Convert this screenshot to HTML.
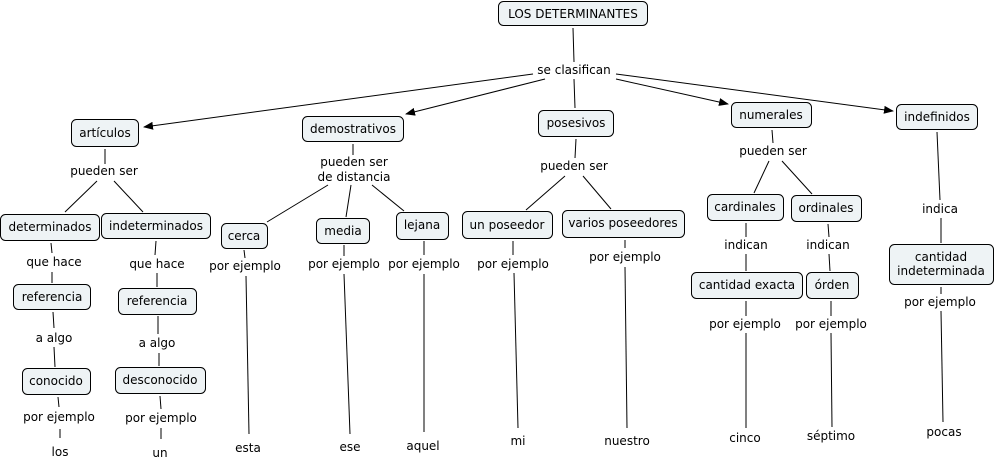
<!DOCTYPE html>
<html><head><meta charset="utf-8"><style>
html,body{margin:0;padding:0;background:#fff;}
svg{display:block;font-family:"DejaVu Sans","Liberation Sans",sans-serif;font-size:12px;}
rect{fill:#eef3f5;stroke:#000;stroke-width:1;}
line{stroke:#000;stroke-width:1;}
text{text-anchor:middle;dominant-baseline:central;fill:#000;}
</style></head><body>
<svg width="995" height="468" viewBox="0 0 995 468">
<defs><marker id="a" markerWidth="10" markerHeight="8" refX="9" refY="4" orient="auto" markerUnits="userSpaceOnUse"><path d="M0,0 L10,4 L0,8 z" fill="#000"/></marker></defs>
<g>
<line x1="573" y1="28" x2="574" y2="62"/>
<line x1="533" y1="74" x2="144" y2="127" marker-end="url(#a)"/>
<line x1="545" y1="79" x2="406" y2="114" marker-end="url(#a)"/>
<line x1="574" y1="79" x2="575" y2="108"/>
<line x1="616" y1="79" x2="728" y2="104" marker-end="url(#a)"/>
<line x1="616" y1="74" x2="893" y2="111" marker-end="url(#a)"/>
<line x1="105" y1="149" x2="105" y2="164"/>
<line x1="97" y1="181" x2="65" y2="212"/>
<line x1="114" y1="181" x2="143" y2="212"/>
<line x1="353" y1="144" x2="353" y2="155"/>
<line x1="328" y1="185" x2="267" y2="222"/>
<line x1="351" y1="185" x2="346" y2="217"/>
<line x1="372" y1="185" x2="404" y2="211"/>
<line x1="576" y1="139" x2="575" y2="158"/>
<line x1="565" y1="176" x2="526" y2="210"/>
<line x1="583" y1="176" x2="611" y2="209"/>
<line x1="772" y1="130" x2="773" y2="143"/>
<line x1="769" y1="161" x2="754" y2="193"/>
<line x1="782" y1="161" x2="812" y2="194"/>
<line x1="937" y1="132" x2="940" y2="200"/>
<line x1="941" y1="218" x2="941" y2="243"/>
<line x1="941" y1="287" x2="941" y2="294"/>
<line x1="941" y1="311" x2="943" y2="422"/>
<line x1="746" y1="223" x2="746" y2="237"/>
<line x1="746" y1="254" x2="746" y2="271"/>
<line x1="746" y1="301" x2="746" y2="316"/>
<line x1="746" y1="333" x2="746" y2="428"/>
<line x1="828" y1="224" x2="829" y2="237"/>
<line x1="829" y1="254" x2="830" y2="271"/>
<line x1="831" y1="301" x2="831" y2="316"/>
<line x1="831" y1="333" x2="832" y2="427"/>
<line x1="51" y1="243" x2="52" y2="253"/>
<line x1="52" y1="272" x2="52" y2="283"/>
<line x1="53" y1="312" x2="54" y2="328"/>
<line x1="54" y1="347" x2="55" y2="367"/>
<line x1="58" y1="397" x2="59" y2="407"/>
<line x1="60" y1="429" x2="60" y2="438"/>
<line x1="156" y1="241" x2="155" y2="255"/>
<line x1="157" y1="273" x2="157" y2="287"/>
<line x1="158" y1="316" x2="158" y2="334"/>
<line x1="159" y1="353" x2="159" y2="366"/>
<line x1="160" y1="396" x2="161" y2="409"/>
<line x1="161" y1="428" x2="161" y2="439"/>
<line x1="244" y1="250" x2="245" y2="258"/>
<line x1="246" y1="276" x2="249" y2="434"/>
<line x1="344" y1="245" x2="344" y2="256"/>
<line x1="344" y1="274" x2="350" y2="434"/>
<line x1="424" y1="241" x2="424" y2="255"/>
<line x1="424" y1="274" x2="424" y2="432"/>
<line x1="513" y1="241" x2="513" y2="255"/>
<line x1="514" y1="273" x2="518" y2="428"/>
<line x1="625" y1="240" x2="625" y2="248"/>
<line x1="625" y1="267" x2="627" y2="428"/>
</g>
<g>
<rect x="498.5" y="1.5" width="149" height="24" rx="5"/><text x="573" y="14">LOS DETERMINANTES</text>
<rect x="71.5" y="119.5" width="67" height="27" rx="5"/><text x="105" y="133">artículos</text>
<rect x="302.5" y="116.5" width="101" height="25" rx="5"/><text x="353" y="129">demostrativos</text>
<rect x="538.5" y="110.5" width="75" height="26" rx="5"/><text x="576" y="123">posesivos</text>
<rect x="731.5" y="102.5" width="80" height="25" rx="5"/><text x="771" y="115">numerales</text>
<rect x="896.5" y="104.5" width="81" height="25" rx="5"/><text x="937" y="117">indefinidos</text>
<rect x="0.5" y="214.5" width="99" height="26" rx="5"/><text x="50" y="227">determinados</text>
<rect x="101.5" y="213.5" width="109" height="25" rx="5"/><text x="156" y="226">indeterminados</text>
<rect x="221.5" y="223.5" width="46" height="25" rx="5"/><text x="244" y="236">cerca</text>
<rect x="316.5" y="218.5" width="53" height="25" rx="5"/><text x="343" y="231">media</text>
<rect x="396.5" y="212.5" width="52" height="27" rx="5"/><text x="422" y="225">lejana</text>
<rect x="462.5" y="211.5" width="90" height="27" rx="5"/><text x="507" y="225">un poseedor</text>
<rect x="562.5" y="210.5" width="122" height="27" rx="5"/><text x="623" y="223">varios poseedores</text>
<rect x="707.5" y="194.5" width="76" height="26" rx="5"/><text x="745" y="207">cardinales</text>
<rect x="791.5" y="195.5" width="70" height="26" rx="5"/><text x="826" y="208">ordinales</text>
<rect x="889.5" y="244.5" width="104" height="40" rx="5"/><text x="941" y="257">cantidad</text><text x="941" y="271">indeterminada</text>
<rect x="13.5" y="284.5" width="77" height="25" rx="5"/><text x="52" y="297">referencia</text>
<rect x="118.5" y="288.5" width="78" height="26" rx="5"/><text x="157" y="301">referencia</text>
<rect x="22.5" y="368.5" width="68" height="26" rx="5"/><text x="56" y="381">conocido</text>
<rect x="115.5" y="367.5" width="90" height="26" rx="5"/><text x="160" y="380">desconocido</text>
<rect x="691.5" y="272.5" width="111" height="26" rx="5"/><text x="747" y="285">cantidad exacta</text>
<rect x="806.5" y="272.5" width="52" height="26" rx="5"/><text x="832" y="285">órden</text>
</g>
<g>
<text x="574" y="70">se clasifican</text>
<text x="104" y="171">pueden ser</text>
<text x="354" y="162">pueden ser</text><text x="354" y="177">de distancia</text>
<text x="574" y="166">pueden ser</text>
<text x="773" y="151">pueden ser</text>
<text x="940" y="209">indica</text>
<text x="54" y="262">que hace</text><text x="157" y="264">que hace</text>
<text x="54" y="338">a algo</text><text x="157" y="343">a algo</text>
<text x="59" y="417">por ejemplo</text><text x="161" y="418">por ejemplo</text>
<text x="60" y="452">los</text><text x="160" y="453">un</text>
<text x="245" y="266">por ejemplo</text>
<text x="344" y="264">por ejemplo</text>
<text x="424" y="264">por ejemplo</text>
<text x="513" y="264">por ejemplo</text>
<text x="625" y="257">por ejemplo</text>
<text x="746" y="245">indican</text><text x="828" y="245">indican</text>
<text x="745" y="324">por ejemplo</text>
<text x="831" y="324">por ejemplo</text>
<text x="940" y="302">por ejemplo</text>
<text x="248" y="448">esta</text>
<text x="350" y="447">ese</text>
<text x="423" y="446">aquel</text>
<text x="518" y="441">mi</text>
<text x="627" y="441">nuestro</text>
<text x="745" y="438">cinco</text>
<text x="831" y="436">séptimo</text>
<text x="944" y="432">pocas</text>
</g>
</svg>
</body></html>
